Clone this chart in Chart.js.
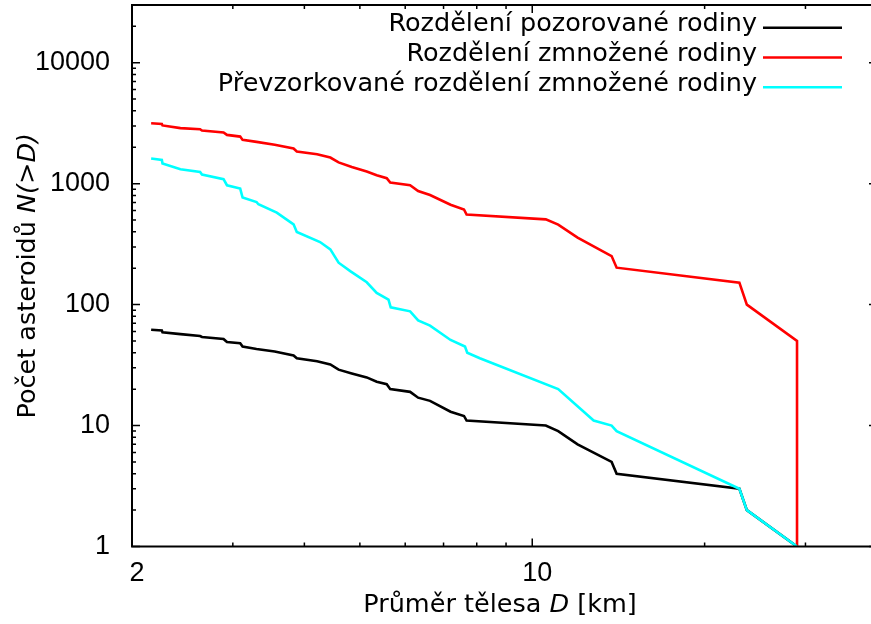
<!DOCTYPE html>
<html>
<head>
<meta charset="utf-8">
<script src="https://cdn.jsdelivr.net/npm/chart.js@4.4.1/dist/chart.umd.min.js"></script>
<style>
html, body { margin: 0; padding: 0; background: #fff; overflow: hidden; }
canvas { display: block; }
</style>
</head>
<body>
<canvas id="c" width="880" height="624"></canvas>
<script>
// ---- data ----
const seriesLabels = [
  'Rozdělení pozorované rodiny',
  'Rozdělení zmnožené rodiny',
  'Převzorkované rozdělení zmnožené rodiny'
];
const seriesColors = ['#000000', '#ff0000', '#00ffff'];

const observedD = [2.16, 2.255, 2.261, 2.43, 2.63, 2.65, 2.89, 2.93, 3.09, 3.12, 3.30, 3.55, 3.83, 3.88, 4.21, 4.44, 4.59, 4.84, 5.14, 5.35, 5.57, 5.65, 6.12, 6.32, 6.63, 7.2, 7.6, 7.68, 10.56, 11.1, 12.0, 13.76, 14.04, 23.0, 23.7, 29.0];
const observedN = [62, 61, 59, 57, 55, 54, 52, 49, 48, 45, 43, 41, 38, 36, 34, 32, 29, 27, 25, 23, 22, 20, 19, 17, 16, 13, 12, 11, 10, 9, 7, 5, 4, 3, 2, 1];

const multipliedD = [2.16, 2.255, 2.261, 2.43, 2.63, 2.65, 2.89, 2.93, 3.09, 3.12, 3.30, 3.55, 3.83, 3.88, 4.21, 4.44, 4.59, 4.84, 5.14, 5.35, 5.57, 5.65, 6.12, 6.32, 6.63, 7.2, 7.6, 7.68, 10.56, 11.1, 12.0, 13.76, 14.04, 23.0, 23.7, 29.0, 29.0];
const multipliedN = [3160, 3120, 3030, 2880, 2820, 2750, 2650, 2530, 2450, 2300, 2215, 2100, 1950, 1845, 1750, 1645, 1500, 1375, 1260, 1175, 1110, 1020, 970, 870, 806, 670, 612, 556, 507, 458, 358, 252, 202, 152, 100, 50, 1];

const resampledD = [2.16, 2.255, 2.261, 2.43, 2.63, 2.65, 2.89, 2.93, 3.09, 3.12, 3.30, 3.325, 3.58, 3.83, 3.88, 4.26, 4.44, 4.59, 4.81, 5.14, 5.35, 5.61, 5.66, 6.12, 6.32, 6.63, 7.2, 7.63, 7.70, 8.10, 11.1, 12.8, 13.76, 14.04, 23.0, 23.7, 29.0];
const resampledN = [1614, 1572, 1467, 1316, 1250, 1190, 1088, 970, 911, 767, 705, 675, 576, 461, 398, 329, 286, 222, 189, 153, 125, 110, 95, 88, 74, 67, 51, 45, 40, 36, 20, 11, 10, 9, 3, 2, 1];

const xTickLabels = [2, 10];
const xMinorTicks = [3, 4, 5, 6, 7, 8, 9, 20, 30];
const yTickLabels = [1, 10, 100, 1000, 10000];
const xRange = [2, 40];
const yRange = [1, 30000];

const xTitleParts = [['Průměr tělesa ', false], ['D', true], [' [km]', false]];
const yTitleParts = [['Počet asteroidů ', false], ['N(>D)', true]];

// ---- build ----
function pts(xs, ys) { return xs.map((v, i) => ({ x: v, y: ys[i] })); }

const yMinorTicks = [];
for (const dec of yTickLabels) for (let m = 2; m <= 9; m++) { const v = dec * m; if (v <= yRange[1]) yMinorTicks.push(v); }

const TEXT_FONT = '"DejaVu Sans", sans-serif';
const TEXT_SIZE = 25.5;

function drawParts(ctx, parts, cx, cy) {
  const fonts = parts.map(p => (p[1] ? 'italic ' : '') + TEXT_SIZE + 'px ' + TEXT_FONT);
  let total = 0;
  const widths = parts.map((p, i) => { ctx.font = fonts[i]; const w = ctx.measureText(p[0]).width; total += w; return w; });
  let x = cx - total / 2;
  ctx.textAlign = 'left';
  ctx.textBaseline = 'middle';
  parts.forEach((p, i) => { ctx.font = fonts[i]; ctx.fillText(p[0], x, cy); x += widths[i]; });
}

const decorPlugin = {
  id: 'decor',
  afterDatasetsDraw(chart) {
    const { ctx, chartArea: a, scales } = chart;
    const xs = scales.x, ys = scales.y;
    ctx.save();
    ctx.strokeStyle = '#000';
    ctx.lineWidth = 1.5;
    ctx.beginPath();
    const xt = (vals, len) => vals.forEach(v => {
      const p = xs.getPixelForValue(v);
      ctx.moveTo(p, a.bottom); ctx.lineTo(p, a.bottom - len);
      ctx.moveTo(p, a.top); ctx.lineTo(p, a.top + len);
    });
    const yt = (vals, len) => vals.forEach(v => {
      const p = ys.getPixelForValue(v);
      ctx.moveTo(a.left, p); ctx.lineTo(a.left + len, p);
      ctx.moveTo(a.right, p); ctx.lineTo(a.right - len, p);
    });
    xt(xTickLabels, 8); xt(xMinorTicks, 4);
    yt(yTickLabels, 8); yt(yMinorTicks, 4);
    ctx.stroke();
    ctx.lineWidth = 2;
    ctx.strokeRect(a.left, a.top, a.right - a.left, a.bottom - a.top);

    // legend
    ctx.fillStyle = '#000';
    ctx.font = TEXT_SIZE + 'px ' + TEXT_FONT;
    ctx.textAlign = 'right';
    ctx.textBaseline = 'middle';
    const rowY = [27.7, 57.5, 87.3];
    chart.data.datasets.forEach((ds, i) => {
      ctx.fillText(ds.label, 757, rowY[i] - 3);
      ctx.strokeStyle = ds.borderColor;
      ctx.lineWidth = 2.5;
      ctx.beginPath();
      ctx.moveTo(763, rowY[i]); ctx.lineTo(842, rowY[i]);
      ctx.stroke();
    });

    // axis titles
    ctx.fillStyle = '#000';
    drawParts(ctx, xTitleParts, 500, 605);
    ctx.save();
    ctx.translate(28, (a.top + a.bottom) / 2);
    ctx.rotate(-Math.PI / 2);
    drawParts(ctx, yTitleParts, 0, 0);
    ctx.restore();
    ctx.restore();
  }
};

Chart.defaults.color = '#000';
Chart.defaults.font.family = '"Liberation Sans", Arial, sans-serif';

new Chart(document.getElementById('c'), {
  type: 'scatter',
  data: {
    datasets: [
      { label: seriesLabels[0], data: pts(observedD, observedN), borderColor: seriesColors[0], order: 3 },
      { label: seriesLabels[1], data: pts(multipliedD, multipliedN), borderColor: seriesColors[1], order: 2 },
      { label: seriesLabels[2], data: pts(resampledD, resampledN), borderColor: seriesColors[2], order: 1 }
    ].map(d => Object.assign(d, { showLine: true, pointRadius: 0, borderWidth: 2.6, tension: 0, fill: false, backgroundColor: d.borderColor }))
  },
  options: {
    responsive: false,
    animation: false,
    devicePixelRatio: 1,
    layout: { padding: { left: 0, right: 3, top: 5, bottom: 0 } },
    plugins: { legend: { display: false }, tooltip: { enabled: false } },
    scales: {
      x: {
        type: 'logarithmic', min: xRange[0], max: xRange[1],
        grid: { display: false, drawTicks: false },
        border: { display: false },
        afterBuildTicks: s => { s.ticks = xTickLabels.map(v => ({ value: v })); },
        afterFit: s => { s.height = 77.5; s.paddingLeft = 0; s.paddingRight = 0; },
        ticks: { autoSkip: false, maxRotation: 0, padding: 11, labelOffset: 5, font: { size: 27 }, callback: v => String(v) }
      },
      y: {
        type: 'logarithmic', min: yRange[0], max: yRange[1],
        grid: { display: false, drawTicks: false },
        border: { display: false },
        afterBuildTicks: s => { s.ticks = yTickLabels.map(v => ({ value: v })); },
        afterFit: s => { s.width = 132; s.paddingTop = 0; s.paddingBottom = 0; },
        ticks: { autoSkip: false, padding: 22, font: { size: 27 }, callback: v => String(v) }
      }
    }
  },
  plugins: [decorPlugin]
});
</script>
</body>
</html>
